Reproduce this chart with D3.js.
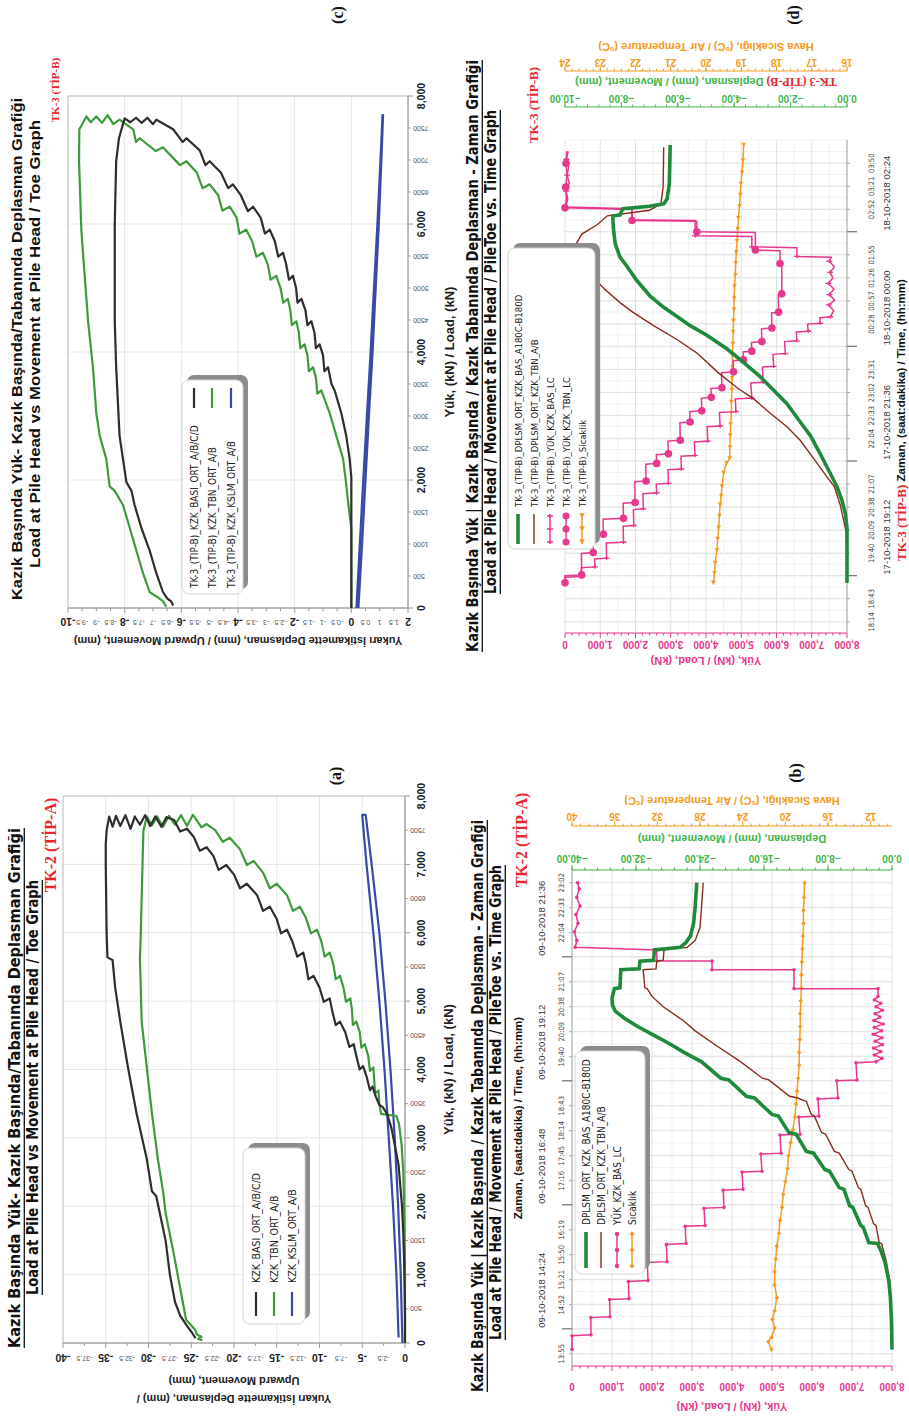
<!DOCTYPE html>
<html><head><meta charset="utf-8">
<script src="https://d3js.org/d3.v7.min.js"></script>
<style>html,body{margin:0;padding:0;background:#fff}svg{display:block}</style>
</head><body>
<svg id="fig" width="909" height="1420"></svg>
<script>
// ================= DATA =================
// Panel (a) TK-2 (TİP-A): load (kN) vs upward movement (mm)
const aBasi = [[0,0],[400,0],[800,-0.05],[1200,-0.1],[1600,-0.2],[2000,-0.35],[2300,-0.55],[2600,-0.75],[2900,-1.2],[3150,-1.6],[3350,-2.1],[3450,-2.6],[3480,-3.0],[3600,-3.4],[3750,-3.8],[3700,-4.1],[3900,-4.5],[4050,-4.9],[4000,-5.3],[4200,-5.7],[4370,-6.0],[4330,-6.5],[4550,-7.0],[4700,-7.6],[4650,-8.1],[4850,-8.5],[5040,-8.8],[4990,-9.5],[5200,-10.0],[5370,-10.7],[5320,-11.3],[5550,-11.6],[5710,-11.9],[5650,-12.6],[5880,-13.2],[6045,-13.8],[5990,-14.5],[6200,-15.0],[6380,-15.8],[6320,-16.6],[6550,-17.3],[6717,-18.5],[6650,-19.3],[6850,-20.0],[6990,-20.9],[6920,-21.8],[7120,-22.4],[7250,-23.2],[7200,-24.0],[7400,-24.7],[7520,-25.5],[7480,-26.3],[7650,-27.0],[7690,-27.9],[7550,-28.5],[7700,-29.2],[7560,-29.8],[7720,-30.4],[7580,-31.0],[7700,-31.6],[7520,-32.1],[7720,-32.7],[7560,-33.3],[7710,-33.8],[7550,-34.2],[7700,-34.6],[7490,-34.9],[7300,-35.0],[7000,-35.0],[6500,-34.95],[6000,-34.9],[5640,-34.8],[5600,-34.2],[5200,-33.9],[4700,-33.3],[4030,-32.4],[3360,-31.4],[2690,-30.2],[2220,-29.6],[2150,-29.1],[1500,-28.0],[1000,-27.5],[600,-26.9],[400,-26.3],[250,-25.5],[150,-24.9],[70,-24.5]];
const aTbn = [[0,0],[500,0],[1000,0],[1500,-0.05],[2000,-0.1],[2500,-0.2],[2900,-0.4],[3200,-0.7],[3320,-1.0],[3350,-2.8],[3500,-3.0],[3690,-3.1],[3650,-3.5],[3850,-3.6],[4030,-3.7],[3980,-4.1],[4200,-4.3],[4370,-4.7],[4320,-5.1],[4550,-5.3],[4700,-5.7],[4650,-6.1],[4870,-6.2],[5040,-6.4],[4990,-6.9],[5200,-7.2],[5370,-7.6],[5320,-8.1],[5550,-8.4],[5710,-8.8],[5650,-9.4],[5880,-9.8],[6045,-10.3],[5990,-11.0],[6220,-11.6],[6380,-12.3],[6320,-13.1],[6550,-13.8],[6717,-15.0],[6650,-15.8],[6880,-16.6],[7050,-17.7],[6990,-18.5],[7220,-19.3],[7390,-20.5],[7330,-21.3],[7500,-22.2],[7590,-23.2],[7540,-23.8],[7725,-24.8],[7560,-25.5],[7720,-26.2],[7580,-26.9],[7710,-27.6],[7550,-28.3],[7700,-29.0],[7570,-29.6],[7700,-30.2],[7490,-30.6],[7000,-30.7],[6000,-30.9],[5640,-31.0],[4700,-30.8],[4030,-30.2],[3360,-29.6],[2690,-28.9],[2220,-28.3],[1900,-28.0],[1340,-27.1],[670,-26.1],[340,-25.6],[200,-24.6],[120,-24.3],[90,-23.8],[60,-24.2],[40,-23.7]];
const aKslm = [[0,-0.3],[1000,-0.5],[2000,-0.8],[3000,-1.2],[4000,-1.7],[5000,-2.3],[6000,-3.0],[7000,-3.9],[7725,-4.6],[7725,-5.0],[7000,-4.5],[6000,-3.7],[5000,-3.0],[4000,-2.4],[3000,-1.9],[2000,-1.4],[1000,-1.0],[80,-0.75]];
const aDispTicks = [-40,-37.5,-35,-32.5,-30,-27.5,-25,-22.5,-20,-17.5,-15,-12.5,-10,-7.5,-5,-2.5,0];
const aLoadMajor = [0,1000,2000,3000,4000,5000,6000,7000,8000];
const aLoadMajorLabels = ["0","1,000","2,000","3,000","4,000","5,000","6,000","7,000","8,000"];
const aLoadMinor = [500,1500,2500,3500,4500,5500,6500,7500];
const aLoadMinorLabels = ["500","1500","2500","3500","4500","5500","6500","7500"];

// Panel (c) TK-3 (TİP-B): load (kN) vs upward movement (mm)
const cBasi = [[0,0],[500,0],[1000,0],[1500,0],[2040,0],[2330,-0.06],[2690,-0.18],[3040,-0.35],[3400,-0.59],[3500,-0.7],[3760,-0.82],[3700,-0.95],[3950,-1.0],[4120,-1.12],[4060,-1.25],[4300,-1.3],[4480,-1.41],[4420,-1.55],[4650,-1.62],[4830,-1.76],[4770,-1.9],[5000,-1.95],[5190,-2.06],[5130,-2.2],[5370,-2.3],[5550,-2.41],[5490,-2.58],[5730,-2.7],[5910,-2.88],[5850,-3.05],[6100,-3.2],[6270,-3.47],[6200,-3.65],[6450,-3.9],[6620,-4.18],[6560,-4.35],[6800,-4.6],[6980,-5.0],[6920,-5.15],[7150,-5.35],[7340,-5.82],[7280,-5.95],[7480,-6.29],[7630,-6.88],[7560,-7.0],[7660,-7.2],[7580,-7.4],[7660,-7.6],[7590,-7.8],[7650,-8.0],[7560,-8.06],[7340,-8.2],[6980,-8.3],[6000,-8.35],[4480,-8.35],[3760,-8.3],[2690,-8.18],[2330,-8.06],[1970,-7.94],[1830,-7.76],[1610,-7.65],[1250,-7.41],[900,-7.12],[540,-6.88],[250,-6.65],[150,-6.5],[100,-6.35],[40,-6.29]];
const cTbn = [[0,0],[500,0],[1000,0],[1250,0],[1600,-0.1],[2000,-0.2],[2330,-0.29],[2690,-0.53],[3040,-0.76],[3400,-1.06],[3350,-1.2],[3600,-1.25],[3760,-1.35],[3700,-1.5],[3950,-1.55],[4120,-1.65],[4060,-1.8],[4300,-1.85],[4480,-1.94],[4420,-2.1],[4650,-2.15],[4830,-2.24],[4770,-2.4],[5000,-2.5],[5190,-2.65],[5130,-2.85],[5370,-2.95],[5550,-3.12],[5490,-3.35],[5730,-3.5],[5910,-3.71],[5850,-3.95],[6100,-4.05],[6270,-4.29],[6210,-4.55],[6450,-4.7],[6620,-5.0],[6560,-5.25],[6800,-5.45],[6980,-5.82],[6920,-6.05],[7200,-6.65],[7140,-6.9],[7340,-7.47],[7280,-7.6],[7480,-7.7],[7630,-8.18],[7560,-8.4],[7700,-8.6],[7580,-8.8],[7680,-9.0],[7590,-9.2],[7680,-9.35],[7560,-9.5],[7480,-9.6],[6980,-9.61],[5910,-9.53],[5190,-9.41],[4480,-9.29],[3760,-9.12],[3040,-9.0],[2690,-8.88],[2330,-8.65],[1900,-8.53],[1830,-8.35],[1610,-8.06],[1250,-7.82],[900,-7.59],[540,-7.35],[250,-7.12],[180,-6.88],[107,-6.65],[20,-6.53]];
const cKslm = [[0,0.18],[1000,0.3],[2000,0.42],[3000,0.55],[4000,0.68],[5000,0.8],[6000,0.92],[7000,1.03],[7700,1.1],[7700,1.12],[7000,1.06],[6000,0.97],[5000,0.86],[4000,0.75],[3000,0.62],[2000,0.5],[1000,0.38],[0,0.25]];
const cDispTicks = [-10,-9.5,-9,-8.5,-8,-7.5,-7,-6.5,-6,-5.5,-5,-4.5,-4,-3.5,-3,-2.5,-2,-1.5,-1,-0.5,0,0.5,1,1.5,2];
const cLoadMajor = [0,2000,4000,6000,8000];
const cLoadMajorLabels = ["0","2,000","4,000","6,000","8,000"];
const cLoadMinor = [500,1000,1500,2500,3000,3500,4500,5000,5500,6500,7000,7500];
const cLoadMinorLabels = ["500","1000","1500","2500","3000","3500","4500","5000","5500","6500","7000","7500"];

// Panel (b) TK-2 (TİP-A) time series, 09-10-2018
const bLoad = [["14:00",0],["14:16",0],["14:17",475],["14:37",470],["14:38",950],["14:58",940],["14:59",1425],["15:19",1410],["15:20",1900],["15:41",1885],["15:42",2375],["16:02",2360],["16:03",2850],["16:23",2830],["16:24",3325],["16:44",3300],["16:45",3800],["17:05",3780],["17:06",4275],["17:26",4250],["17:27",4750],["17:47",4720],["17:48",5225],["18:09",5200],["18:10",5700],["18:30",5670],["18:31",6175],["18:51",6150],["18:52",6650],["19:12",6620],["19:13",7125],["19:33",7100],["19:34",7600],["19:38",7750],["19:42",7560],["19:46",7720],["19:50",7540],["19:54",7760],["19:58",7580],["20:02",7750],["20:06",7530],["20:10",7740],["20:14",7560],["20:18",7780],["20:22",7550],["20:26",7700],["20:30",7580],["20:34",7760],["20:38",7600],["20:42",7720],["20:46",7560],["20:50",7650],["20:59",7650],["20:59",5550],["21:21",5550],["21:21",3500],["21:31",3500],["21:31",2120],["21:44",2120],["21:47",80],["21:55",120],["22:05",60],["22:15",150],["22:25",100],["22:35",200],["22:45",120],["22:55",180],["23:02",140]];
const bDispHead = [["14:00",0],["14:30",-0.05],["15:00",-0.2],["15:20",-0.4],["15:42",-0.9],["15:55",-1.4],["16:03",-1.8],["16:04",-2.9],["16:22",-3.6],["16:24",-3.9],["16:45",-4.9],["16:47",-5.3],["17:06",-6.0],["17:08",-6.6],["17:27",-7.8],["17:29",-8.4],["17:48",-9.8],["17:50",-10.7],["18:10",-12.0],["18:12",-12.9],["18:31",-14.2],["18:33",-15.0],["18:52",-17.2],["18:54",-18.2],["19:13",-20.4],["19:15",-21.4],["19:34",-23.8],["19:45",-26.0],["19:55",-27.8],["20:05",-29.8],["20:15",-31.8],["20:25",-33.5],["20:33",-34.6],["20:40",-34.95],["20:48",-35.0],["20:59",-34.7],["21:00",-34.0],["21:21",-33.9],["21:22",-31.6],["21:31",-31.5],["21:32",-29.8],["21:44",-29.7],["21:47",-26.5],["21:52",-25.8],["22:00",-25.2],["22:15",-24.8],["22:35",-24.6],["23:02",-24.4]];
const bDispToe = [["14:00",0],["14:40",-0.05],["15:20",-0.3],["15:42",-0.7],["16:03",-1.3],["16:04",-1.6],["16:24",-2.0],["16:26",-2.3],["16:45",-3.0],["16:47",-3.3],["17:06",-3.9],["17:08",-4.2],["17:27",-5.0],["17:29",-5.4],["17:48",-6.6],["17:50",-7.2],["18:10",-8.3],["18:12",-8.8],["18:31",-9.7],["18:33",-10.1],["18:48",-10.7],["18:52",-11.8],["18:54",-12.8],["19:13",-15.4],["19:15",-16.2],["19:34",-18.9],["19:55",-22.3],["20:10",-24.6],["20:22",-26.1],["20:38",-28.6],["20:50",-30.0],["20:59",-30.6],["21:00",-30.9],["21:21",-31.1],["21:22",-29.5],["21:31",-29.4],["21:32",-28.6],["21:44",-28.5],["21:47",-25.6],["21:55",-24.6],["22:10",-24.0],["22:35",-23.8],["23:02",-23.6]];
const bTemp = [["14:00",21.3],["14:09",21.6],["14:14",21.3],["14:25",21.0],["14:35",21.2],["14:45",21.0],["15:00",20.8],["15:15",21.0],["15:30",21.0],["15:45",20.9],["16:00",20.8],["16:15",20.6],["16:30",20.5],["16:45",20.3],["17:00",20.2],["17:15",20.0],["17:30",19.8],["17:45",19.7],["18:00",19.5],["18:15",19.3],["18:30",19.1],["18:45",19.0],["19:00",18.9],["19:15",18.8],["19:30",18.7],["19:45",18.7],["20:00",18.65],["20:15",18.6],["20:30",18.6],["20:45",18.55],["21:00",18.5],["21:15",18.5],["21:30",18.45],["21:45",18.4],["22:00",18.35],["22:15",18.3],["22:30",18.3],["22:45",18.25],["23:02",18.2]];
const bTimeLabels = ["13:55","14:52","15:21","15:50","16:19","17:16","17:45","18:14","18:43","19:40","20:09","20:38","21:07","22:04","22:33","23:02"];
const bDateLabels = ["09-10-2018 14:24","09-10-2018 16:48","09-10-2018 19:12","09-10-2018 21:36"];
const bDispTicks = [0,-8,-16,-24,-32,-40];
const bTempTicks = [12,16,20,24,28,32,36,40];

// Panel (d) TK-3 (TİP-B) time series, 17/18-10-2018 (times before 12:00 are on 18-10)
const dLoadBas = [["19:03",0],["19:10",0],["19:11",470],["19:22",460],["19:23",850],["19:33",840],["19:34",1180],["19:53",1170],["19:54",1660],["20:14",1650],["20:15",1950],["20:35",1940],["20:36",2225],["20:55",2210],["20:56",2600],["21:07",2590],["21:08",2935],["21:25",2920],["21:26",3300],["21:42",3290],["21:43",3690],["22:00",3670],["22:01",4050],["22:19",4030],["22:20",4400],["22:37",4380],["22:38",4850],["22:54",4830],["22:55",5300],["23:14",5270],["23:15",5620],["23:34",5600],["23:35",5920],["23:50",5900],["23:51",6250],["00:06",6230],["00:07",6580],["00:18",6560],["00:19",6900],["00:28",6880],["00:29",7240],["00:36",7230],["00:37",7530],["00:45",7620],["00:52",7480],["00:58",7650],["01:05",7500],["01:12",7630],["01:19",7470],["01:26",7600],["01:33",7520],["01:40",7640],["01:47",7500],["01:52",7550],["01:53",6580],["02:04",6580],["02:05",5300],["02:18",5300],["02:19",3690],["02:38",3690],["02:39",1900],["02:53",1900],["02:55",20],["03:05",80],["03:15",30],["03:25",120],["03:35",60],["03:45",100],["03:55",40],["04:05",90]];
const dLoadTbn = [["19:03",0],["19:12",0],["19:13",473],["19:40",465],["19:41",800],["20:03",790],["20:04",1090],["20:23",1080],["20:24",1660],["20:43",1650],["20:44",1990],["21:10",1980],["21:11",2300],["21:32",2290],["21:33",2600],["21:44",2590],["21:45",2935],["22:01",2920],["22:02",3270],["22:24",3260],["22:25",3550],["22:38",3540],["22:39",3880],["22:55",3870],["22:56",4150],["23:07",4140],["23:08",4450],["23:27",4440],["23:28",4780],["23:42",4770],["23:43",5065],["23:53",5055],["23:54",5300],["00:05",5290],["00:06",5585],["00:22",5575],["00:23",5870],["00:42",5860],["00:43",6060],["01:05",6050],["01:06",6150],["01:43",6150],["01:44",6100],["02:00",6100],["02:01",5400],["02:23",5400],["02:24",3740],["02:37",3740],["02:38",1900],["02:52",1900],["02:54",0],["03:05",40],["03:20",20],["03:35",60],["03:50",30],["04:05",50]];
const dDispHead = [["19:03",0],["20:12",0],["20:30",-0.06],["20:47",-0.18],["21:04",-0.36],["21:21",-0.6],["21:45",-0.95],["22:08",-1.3],["22:25",-1.66],["22:48",-2.13],["23:05",-2.6],["23:22",-3.08],["23:40",-3.67],["23:57",-4.26],["00:14",-4.97],["00:26",-5.56],["00:37",-6.0],["00:49",-6.5],["01:03",-6.98],["01:23",-7.46],["01:41",-7.81],["01:52",-8.05],["02:09",-8.22],["02:27",-8.28],["02:38",-8.3],["02:44",-8.3],["02:45",-8.05],["02:53",-7.95],["02:56",-7.0],["02:59",-6.5],["03:05",-6.38],["03:24",-6.3],["04:13",-6.27]];
const dDispToe = [["19:03",0],["20:05",-0.02],["20:41",-0.24],["21:04",-0.45],["21:16",-0.71],["21:39",-1.18],["22:02",-1.66],["22:19",-2.13],["22:36",-2.72],["22:54",-3.31],["23:08",-3.9],["23:28",-4.6],["23:51",-5.3],["00:08",-6.0],["00:26",-6.86],["00:43",-7.6],["00:55",-8.05],["01:12",-8.6],["01:23",-8.9],["01:41",-9.3],["01:52",-9.5],["02:09",-9.6],["02:21",-9.4],["02:33",-8.85],["02:44",-8.5],["02:51",-7.0],["02:59",-6.6],["03:20",-6.52],["04:10",-6.5]];
const dTemp = [["19:03",19.79],["19:15",19.76],["19:28",19.74],["19:44",19.69],["19:58",19.67],["20:12",19.64],["20:27",19.62],["20:41",19.6],["20:52",19.57],["21:04",19.55],["21:21",19.5],["21:33",19.42],["21:39",19.33],["21:53",19.32],["22:08",19.31],["22:22",19.3],["22:36",19.28],["22:50",19.28],["23:05",19.27],["23:20",19.26],["23:34",19.25],["23:48",19.25],["00:03",19.24],["00:18",19.23],["00:32",19.22],["00:46",19.21],["01:00",19.2],["01:15",19.19],["01:29",19.17],["01:44",19.16],["01:58",19.14],["02:12",19.12],["02:27",19.1],["02:41",19.08],["02:56",19.05],["03:10",19.03],["03:24",19.01],["03:38",18.98],["03:53",18.95],["04:13",18.93]];
const dTimeLabels = ["18:14","18:43","19:40","20:09","20:38","21:07","22:04","22:33","23:02","23:31","00:28","00:57","01:26","01:55","02:52","03:21","03:50"];
const dDateLabels = ["17-10-2018 19:12","17-10-2018 21:36","18-10-2018 00:00","18-10-2018 02:24"];
const dDispTicks = [0,-2,-4,-6,-8,-10];
const dTempTicks = [16,17,18,19,20,21,22,23,24];
const loadTicks = [0,1000,2000,3000,4000,5000,6000,7000,8000];
const loadTickLabels = ["0","1,000","2,000","3,000","4,000","5,000","6,000","7,000","8,000"];

// ================= DRAWING =================
const SANS="'Liberation Sans', Arial, Helvetica, sans-serif";
const NARROW="'Liberation Sans Narrow','Arial Narrow','DejaVu Sans Condensed',sans-serif";
const SERIF="'Liberation Serif','Times New Roman',serif";
const PINK='#e8378f', GREEN_L='#1f8a3c', GREEN_T='#45b54b', BROWN='#8a2a1e', ORANGE='#f59a23', RED='#e8262b';
const svg=d3.select('#fig');
svg.append('rect').attr('width',909).attr('height',1420).attr('fill','#fff');
// the whole figure is laid out landscape and turned a quarter turn counter-clockwise
const R=svg.append('g').attr('transform','translate(0,1420) rotate(-90)');

function txt(g,u,v,s,o={}){
  const t=g.append('text').text(s)
    .attr('font-family',o.ff||SANS).attr('font-size',o.fs||10)
    .attr('fill',o.fill||'#222').attr('text-anchor',o.anchor||'middle')
    .attr('dominant-baseline',o.base||'central');
  if(o.fw) t.attr('font-weight',o.fw);
  if(o.rot!==undefined) t.attr('transform',`translate(${u},${v}) rotate(${o.rot})`);
  else t.attr('x',u).attr('y',v);
  if(o.len) t.attr('textLength',o.len).attr('lengthAdjust','spacingAndGlyphs');
  return t;
}
function hl(g,u0,u1,v,c,w){g.append('line').attr('x1',u0).attr('x2',u1).attr('y1',v).attr('y2',v).attr('stroke',c).attr('stroke-width',w||1);}
function vl(g,u,v0,v1,c,w){g.append('line').attr('x1',u).attr('x2',u).attr('y1',v0).attr('y2',v1).attr('stroke',c).attr('stroke-width',w||1);}
function title(g,u0,u1,v,s,o){
  txt(g,u0,v,s,Object.assign({anchor:'start',len:u1-u0},o));
  if(o.ul) hl(g,u0,u1,v+o.fs*0.62,'#111',1.3);
}
function marker(g,u,v,type,color,s){
  if(type==='circle') g.append('circle').attr('cx',u).attr('cy',v).attr('r',s).attr('fill',color);
  else if(type==='diamond') g.append('path').attr('d',`M${u-s},${v}L${u},${v-s}L${u+s},${v}L${u},${v+s}Z`).attr('fill',color);
  else if(type==='tri') g.append('path').attr('d',`M${u-s},${v}L${u+s},${v-s}L${u+s},${v+s}Z`).attr('fill',color);
  else if(type==='tick') g.append('path').attr('d',`M${u},${v-s}L${u},${v+s}M${u-s*0.6},${v}L${u+s*0.6},${v}`).attr('stroke',color).attr('stroke-width',1.3);
}
function legend(g,p){
  const w=p.u1-p.u0,h=p.v1-p.v0;
  g.append('rect').attr('x',p.u0+5).attr('y',p.v0+5).attr('width',w).attr('height',h).attr('rx',7).attr('fill','#8c8c8c');
  g.append('rect').attr('x',p.u0).attr('y',p.v0).attr('width',w).attr('height',h).attr('rx',7).attr('fill','#fff').attr('stroke','#d4d4d4');
  p.rows.forEach(r=>{
    hl(g,p.sU0,p.sU1,r.v,r.color,r.w);
    if(r.marker){[p.sU0+2,(p.sU0+p.sU1)/2,p.sU1-2].forEach(u=>marker(g,u,r.v,r.marker,r.color,r.ms));}
    txt(g,p.tU,r.v,r.label,{anchor:'start',fs:p.fs,ff:NARROW,fill:'#222'});
  });
}

// ---------- load / movement panels ----------
function ldPanel(p){
  const g=R.append('g');
  const x=d3.scaleLinear().domain([0,8000]).range([p.u0,p.u1]);
  const y=d3.scaleLinear().domain(p.yDom).range([p.v0,p.v1]);
  p.xMajor.forEach(d=>vl(g,x(d),p.v0,p.v1,'#e6e6e6'));
  p.yTicks.filter(p.yMajor).forEach(d=>hl(g,p.u0,p.u1,y(d),'#e6e6e6'));
  g.append('rect').attr('x',p.u0).attr('y',p.v0).attr('width',p.u1-p.u0).attr('height',p.v1-p.v0).attr('fill','none').attr('stroke','#c4c4c4');
  vl(g,p.u0,p.v0,p.v1,'#9a9a9a'); hl(g,p.u0,p.u1,p.v1,'#9a9a9a');
  p.yTicks.forEach(d=>{const M=p.yMajor(d);
    hl(g,p.u0-(M?5:3),p.u0,y(d),'#9a9a9a');
    txt(g,p.yLabU,y(d),String(d),{rot:-90,fs:M?10.5:7,fw:M?'bold':null,fill:M?'#222':'#555'});});
  p.xMajor.forEach((d,i)=>{vl(g,x(d),p.v1,p.v1+5,'#9a9a9a');txt(g,x(d),p.xLabV,p.xMajorLabels[i],{fs:10.5,fw:'bold'});});
  p.xMinor.forEach((d,i)=>{vl(g,x(d),p.v1,p.v1+3,'#9a9a9a');txt(g,x(d),p.v1+5,p.xMinorLabels[i],{rot:-90,anchor:'end',fs:7,fill:'#555'});});
  txt(g,(p.u0+p.u1)/2,p.xTitleV,'Yük, (kN) / Load, (kN)',{fs:13,fw:'bold'});
  p.yTitle.forEach(t=>txt(g,t.u,(p.v0+p.v1)/2,t.s,{rot:-90,fs:11,fw:'bold'}));
  const line=d3.line().x(d=>x(d[0])).y(d=>y(d[1]));
  p.series.forEach(s=>g.append('path').datum(s.data).attr('d',line).attr('fill','none').attr('stroke',s.color).attr('stroke-width',2.2).attr('stroke-linejoin','round'));
  legend(g,p.legend);
  p.titles.forEach(t=>title(g,t.u0,t.u1,t.v,t.s,t.o));
  txt(g,p.tk.u,p.tk.v,p.tk.s,{ff:SERIF,fs:p.tk.fs,fill:RED,fw:'bold'});
  txt(g,p.tag.u,p.tag.v,p.tag.s,{ff:SERIF,fs:16,fw:'bold',fill:'#111'});
}

ldPanel({u0:77,u1:624,v0:63,v1:405,yDom:[-40,0],yTicks:aDispTicks,yMajor:d=>d%5===0,yLabU:62,
  xMajor:aLoadMajor,xMajorLabels:aLoadMajorLabels,xMinor:aLoadMinor,xMinorLabels:aLoadMinorLabels,xLabV:421,xTitleV:448,
  yTitle:[{u:21,s:'Yukarı İstikamette Deplasman, (mm) /'},{u:39,s:'Upward Movement, (mm)'}],
  series:[{data:aKslm,color:'#3a48a8'},{data:aTbn,color:'#3d9a3d'},{data:aBasi,color:'#2e2e2e'}],
  legend:{u0:96,u1:272,v0:243,v1:305,sU0:104,sU1:128,tU:137,fs:10.5,rows:[
    {v:256,label:'KZK_BASI_ORT_A/B/C/D',color:'#2e2e2e',w:2.2},
    {v:274,label:'KZK_TBN_ORT_A/B',color:'#3d9a3d',w:2.2},
    {v:292,label:'KZK_KSLM_ORT_A/B',color:'#3a48a8',w:2.2}]},
  titles:[{u0:72,u1:592,v:15,s:'Kazık Başında Yük- Kazık Başında/Tabanında Deplasman Grafiği',o:{fs:15,fw:'bold',ff:NARROW,ul:true,fill:'#111'}},
          {u0:125,u1:540,v:33,s:'Load at Pile Head vs Movement at Pile Head / Toe Graph',o:{fs:15,fw:'bold',ff:NARROW,ul:true,fill:'#111'}}],
  tk:{u:575,v:50,s:'TK-2 (TİP-A)',fs:16},tag:{u:644,v:335,s:'(a)'}});

ldPanel({u0:812,u1:1324,v0:68,v1:408,yDom:[-10,2],yTicks:cDispTicks,yMajor:d=>d%2===0,yLabU:798,
  xMajor:cLoadMajor,xMajorLabels:cLoadMajorLabels,xMinor:cLoadMinor,xMinorLabels:cLoadMinorLabels,xLabV:421,xTitleV:449,
  yTitle:[{u:779,s:'Yukarı İstikamette Deplasman, (mm) / Upward Movement, (mm)'}],
  series:[{data:cKslm,color:'#3a48a8'},{data:cTbn,color:'#3d9a3d'},{data:cBasi,color:'#2e2e2e'}],
  legend:{u0:826,u1:1040,v0:182,v1:243,sU0:1012,sU1:1032,tU:832,fs:10,rows:[
    {v:194,label:'TK-3_(TIP-B)_KZK_BASI_ORT_A/B/C/D',color:'#2e2e2e',w:2.2},
    {v:212,label:'TK-3_(TIP-B)_KZK_TBN_ORT_A/B',color:'#3d9a3d',w:2.2},
    {v:231,label:'TK-3_(TIP-B)_KZK_KSLM_ORT_A/B',color:'#3a48a8',w:2.2}]},
  titles:[{u0:820,u1:1322,v:17,s:'Kazık Başında Yük- Kazık Başında/Tabanında Deplasman Grafiği',o:{fs:14,fw:'bold',ff:SANS,fill:'#111'}},
          {u0:852,u1:1300,v:35,s:'Load at Pile Head vs Movement at Pile Head / Toe Graph',o:{fs:14,fw:'bold',ff:SANS,fill:'#111'}}],
  tk:{u:1330,v:55,s:'TK-3 (TİP-B)',fs:11},tag:{u:1405,v:337,s:'(c)'}});

// ---------- time panels ----------
function tPanel(p){
  const g=R.append('g');
  const x=d3.scaleLinear().domain(p.tDom).range([p.u0,p.u1]);
  const yL=d3.scaleLinear().domain([0,8000]).range([p.v0,p.v1]);
  const yD=d3.scaleLinear().domain(p.dDom).range([p.v0,p.v1]);
  const yT=d3.scaleLinear().domain(p.TDom).range([p.v0,p.v1]);
  const tt=p.timeLabels.map(p.tp), dt=p.dateLabels.map(p.dp);
  // light grid
  d3.range(p.tDom[0],p.tDom[1]+1,28.8/2).forEach(t=>vl(g,x(t),p.v0,p.v1,'#f1f1f1'));
  tt.concat(dt).forEach(t=>vl(g,x(t),p.v0,p.v1,'#e2e2e2'));
  d3.range(500,8000,1000).forEach(L=>hl(g,p.u0,p.u1,yL(L),'#f1f1f1'));
  loadTicks.forEach(L=>hl(g,p.u0,p.u1,yL(L),'#e2e2e2'));
  // time axis
  const av=p.timeAxisV, dir=p.dir;
  hl(g,p.u0,p.u1,av,'#a8a8a8');
  tt.forEach((t,i)=>{vl(g,x(t),av,av+dir*3,'#a8a8a8');txt(g,x(t),p.timeLabV,p.timeLabels[i],{fs:7.5,fill:'#444',ff:NARROW});});
  dt.forEach((t,i)=>{vl(g,x(t),av,av+dir*10,'#777',1.3);txt(g,x(t)+1,p.dateLabV,p.dateLabels[i],{fs:9.5,fill:'#333',anchor:'start'});});
  // load axis
  vl(g,p.u0,p.v0,p.v1,PINK);
  loadTicks.forEach((L,i)=>{hl(g,p.u0-5,p.u0,yL(L),PINK);txt(g,p.loadLabU,yL(L),loadTickLabels[i],{rot:-90,fs:10,fw:'bold',fill:PINK});});
  d3.range(200,8000,200).filter(L=>L%1000).forEach(L=>hl(g,p.u0-2.5,p.u0,yL(L),PINK));
  txt(g,p.loadTitleU,(p.v0+p.v1)/2,'Yük, (kN) / Load, (kN)',{rot:-90,fs:11,fw:'bold',fill:PINK});
  // displacement axis
  vl(g,p.dAxisU,p.v0,p.v1,GREEN_T);
  p.dTicks.forEach(d=>{hl(g,p.dAxisU,p.dAxisU+5,yD(d),GREEN_T);txt(g,p.dLabU,yD(d),d3.format('.2f')(d),{rot:-90,fs:10,fw:'bold',fill:GREEN_T});});
  d3.range(0,5*(p.dTicks.length-1)+1).forEach(k=>{const d=p.dDom[1]+(p.dDom[0]-p.dDom[1])*k/(5*(p.dTicks.length-1));hl(g,p.dAxisU,p.dAxisU+2.5,yD(d),GREEN_T);});
  const dt_=g.append('text').attr('transform',`translate(${p.dTitleU},${(p.v0+p.v1)/2}) rotate(-90)`).attr('text-anchor','middle').attr('dominant-baseline','central').attr('font-size',11).attr('font-weight','bold').attr('font-family',SANS);
  if(p.dTitlePre) dt_.append('tspan').attr('fill',RED).attr('font-family',SERIF).attr('font-size',12).text(p.dTitlePre);
  dt_.append('tspan').attr('fill',GREEN_T).text('Deplasman, (mm) / Movement, (mm)');
  // temperature axis
  vl(g,p.TAxisU,p.v0,p.v1,ORANGE);
  const Tmin=Math.min(...p.TDom),Tmax=Math.max(...p.TDom);
  d3.range(Math.round(Tmin*5),Math.round(Tmax*5)+1).forEach(k=>{const T=k/5; if(Math.abs((T/p.TMinorStep)-Math.round(T/p.TMinorStep))<1e-6) hl(g,p.TAxisU,p.TAxisU+2.5,yT(T),ORANGE);});
  p.TTicks.forEach(T=>{hl(g,p.TAxisU,p.TAxisU+5,yT(T),ORANGE);txt(g,p.TLabU,yT(T),String(T),{rot:-90,fs:10,fw:'bold',fill:ORANGE});});
  txt(g,p.TTitleU,(p.v0+p.v1)/2,'Hava Sıcaklığı, (°C) / Air Temperature (°C)',{rot:-90,fs:11,fw:'bold',fill:ORANGE});
  // series
  const pt=d=>p.tp(d[0]);
  const lineD=d3.line().x(d=>x(pt(d))).y(d=>yD(d[1]));
  const lineL=d3.line().x(d=>x(pt(d))).y(d=>yL(d[1]));
  const lineT=d3.line().x(d=>x(pt(d))).y(d=>yT(d[1]));
  g.append('path').datum(p.temp).attr('d',lineT).attr('fill','none').attr('stroke',ORANGE).attr('stroke-width',1.5);
  p.temp.forEach(d=>marker(g,x(pt(d)),yT(d[1]),p.tempMarker,ORANGE,2.3));
  p.loads.forEach(s=>{
    g.append('path').datum(s.data).attr('d',lineL).attr('fill','none').attr('stroke',PINK).attr('stroke-width',1.5);
    s.data.forEach((d,i)=>{if(i%s.every===0) marker(g,x(pt(d)),yL(d[1]),s.marker,PINK,s.ms);});
  });
  g.append('path').datum(p.toe).attr('d',lineD).attr('fill','none').attr('stroke',BROWN).attr('stroke-width',1.4);
  g.append('path').datum(p.head).attr('d',lineD).attr('fill','none').attr('stroke',GREEN_L).attr('stroke-width',3.6);
  legend(g,p.legend);
  const tt_=g.append('text').attr('x',p.timeTitle.u).attr('y',p.timeTitleV).attr('text-anchor','middle').attr('dominant-baseline','central').attr('font-size',11.5).attr('font-weight','bold').attr('font-family',SANS).attr('fill','#111');
  if(p.timeTitle.pre) tt_.append('tspan').attr('fill',RED).attr('font-family',SERIF).attr('font-size',13).text(p.timeTitle.pre);
  tt_.append('tspan').text('Zaman, (saat:dakika) / Time, (hh:mm)');
  p.titles.forEach(t=>title(g,t.u0,t.u1,t.v,t.s,t.o));
  txt(g,p.tk.u,p.tk.v,p.tk.s,{ff:SERIF,fs:p.tk.fs,fill:RED,fw:'bold'});
  txt(g,p.tag.u,p.tag.v,p.tag.s,{ff:SERIF,fs:16,fw:'bold',fill:'#111'});
}
const hm=s=>{const [h,m]=s.split(':').map(Number);return h*60+m;};
const dayParse=base=>s=>{const [dt,t]=s.split(' ');return (+dt.slice(0,2)-base)*1440+hm(t);};
const TFONT={fs:15,fw:'bold',ff:NARROW,ul:true,fill:'#111'};

tPanel({u0:54,u1:550,v0:572,v1:892,tDom:[820.8,1396.8],dDom:[-40,0],TDom:[40,10],TMinorStep:0.8,
  tp:hm,dp:dayParse(9),timeLabels:bTimeLabels,dateLabels:bDateLabels,timeAxisV:572,dir:-1,timeLabV:561,dateLabV:541,
  timeTitle:{u:302},timeTitleV:518,
  loadLabU:34,loadTitleU:13,dAxisU:550,dLabU:562,dTitleU:581,dTicks:bDispTicks,
  TAxisU:594,TLabU:604,TTitleU:619,TTicks:bTempTicks,
  head:bDispHead,toe:bDispToe,temp:bTemp,tempMarker:'diamond',
  loads:[{data:bLoad,marker:'circle',ms:1.8,every:1}],
  legend:{u0:146,u1:369,v0:575,v1:645,sU0:152,sU1:188,tU:195,fs:10,rows:[
    {v:586,label:'DPLSM_ORT_KZK_BAS_A180C-B180D',color:GREEN_L,w:3.6},
    {v:601,label:'DPLSM_ORT_KZK_TBN_A/B',color:BROWN,w:1.4},
    {v:617,label:'YÜK_KZK_BAS_LC',color:PINK,w:1.5,marker:'circle',ms:2.2},
    {v:632,label:'Sıcaklık',color:ORANGE,w:1.5,marker:'diamond',ms:2.6}]},
  titles:[{u0:28,u1:600,v:478,s:'Kazık Başında Yük | Kazık Başında / Kazık Tabanında Deplasman - Zaman Grafiği',o:TFONT},
          {u0:80,u1:555,v:496,s:'Load at Pile Head / Movement at Pile Head / PileToe vs. Time Graph',o:TFONT}],
  tk:{u:580,v:521,s:'TK-2 (TİP-A)',fs:16},tag:{u:647,v:795,s:'(b)'}});

tPanel({u0:787,u1:1280,v0:565,v1:847,tDom:[1080,1699.2],dDom:[-10,0],TDom:[24,16],TMinorStep:0.2,
  tp:s=>{const m=hm(s);return m<720?m+1440:m;},dp:dayParse(17),timeLabels:dTimeLabels,dateLabels:dDateLabels,timeAxisV:847,dir:1,timeLabV:871,dateLabV:886,
  timeTitle:{u:1000,pre:'TK-3 (TİP-B) '},timeTitleV:901,
  loadLabU:776,loadTitleU:759,dAxisU:1313,dLabU:1322,dTitleU:1338,dTitlePre:'TK-3 (TİP-B) ',dTicks:dDispTicks,
  TAxisU:1349,TLabU:1358,TTitleU:1373,TTicks:dTempTicks,
  head:dDispHead,toe:dDispToe,temp:dTemp,tempMarker:'tri',
  loads:[{data:dLoadBas,marker:'tick',ms:3,every:2},{data:dLoadTbn,marker:'circle',ms:3.8,every:2}],
  legend:{u0:871,u1:1172,v0:508,v1:595,sU0:876,sU1:906,tU:913,fs:9.5,rows:[
    {v:518,label:'TK-3_(TIP-B)_DPLSM_ORT_KZK_BAS_A180C-B180D',color:GREEN_L,w:3.6},
    {v:534,label:'TK-3_(TIP-B)_DPLSM_ORT_KZK_TBN_A/B',color:BROWN,w:1.4},
    {v:550,label:'TK-3_(TIP-B)_YÜK_KZK_BAS_LC',color:PINK,w:1.5,marker:'tick',ms:3},
    {v:566,label:'TK-3_(TIP-B)_YÜK_KZK_TBN_LC',color:PINK,w:1.5,marker:'circle',ms:3.5},
    {v:582,label:'TK-3_(TIP-B)_Sicaklik',color:ORANGE,w:1.5,marker:'tri',ms:2.8}]},
  titles:[{u0:768,u1:1360,v:473,s:'Kazık Başında Yük | Kazık Başında / Kazık Tabanında Deplasman - Zaman Grafiği',o:TFONT},
          {u0:826,u1:1310,v:491,s:'Load at Pile Head / Movement at Pile Head / PileToe vs. Time Graph',o:TFONT}],
  tk:{u:1315,v:533,s:'TK-3 (TİP-B)',fs:13},tag:{u:1405,v:793,s:'(d)'}});
</script>
</body></html>
